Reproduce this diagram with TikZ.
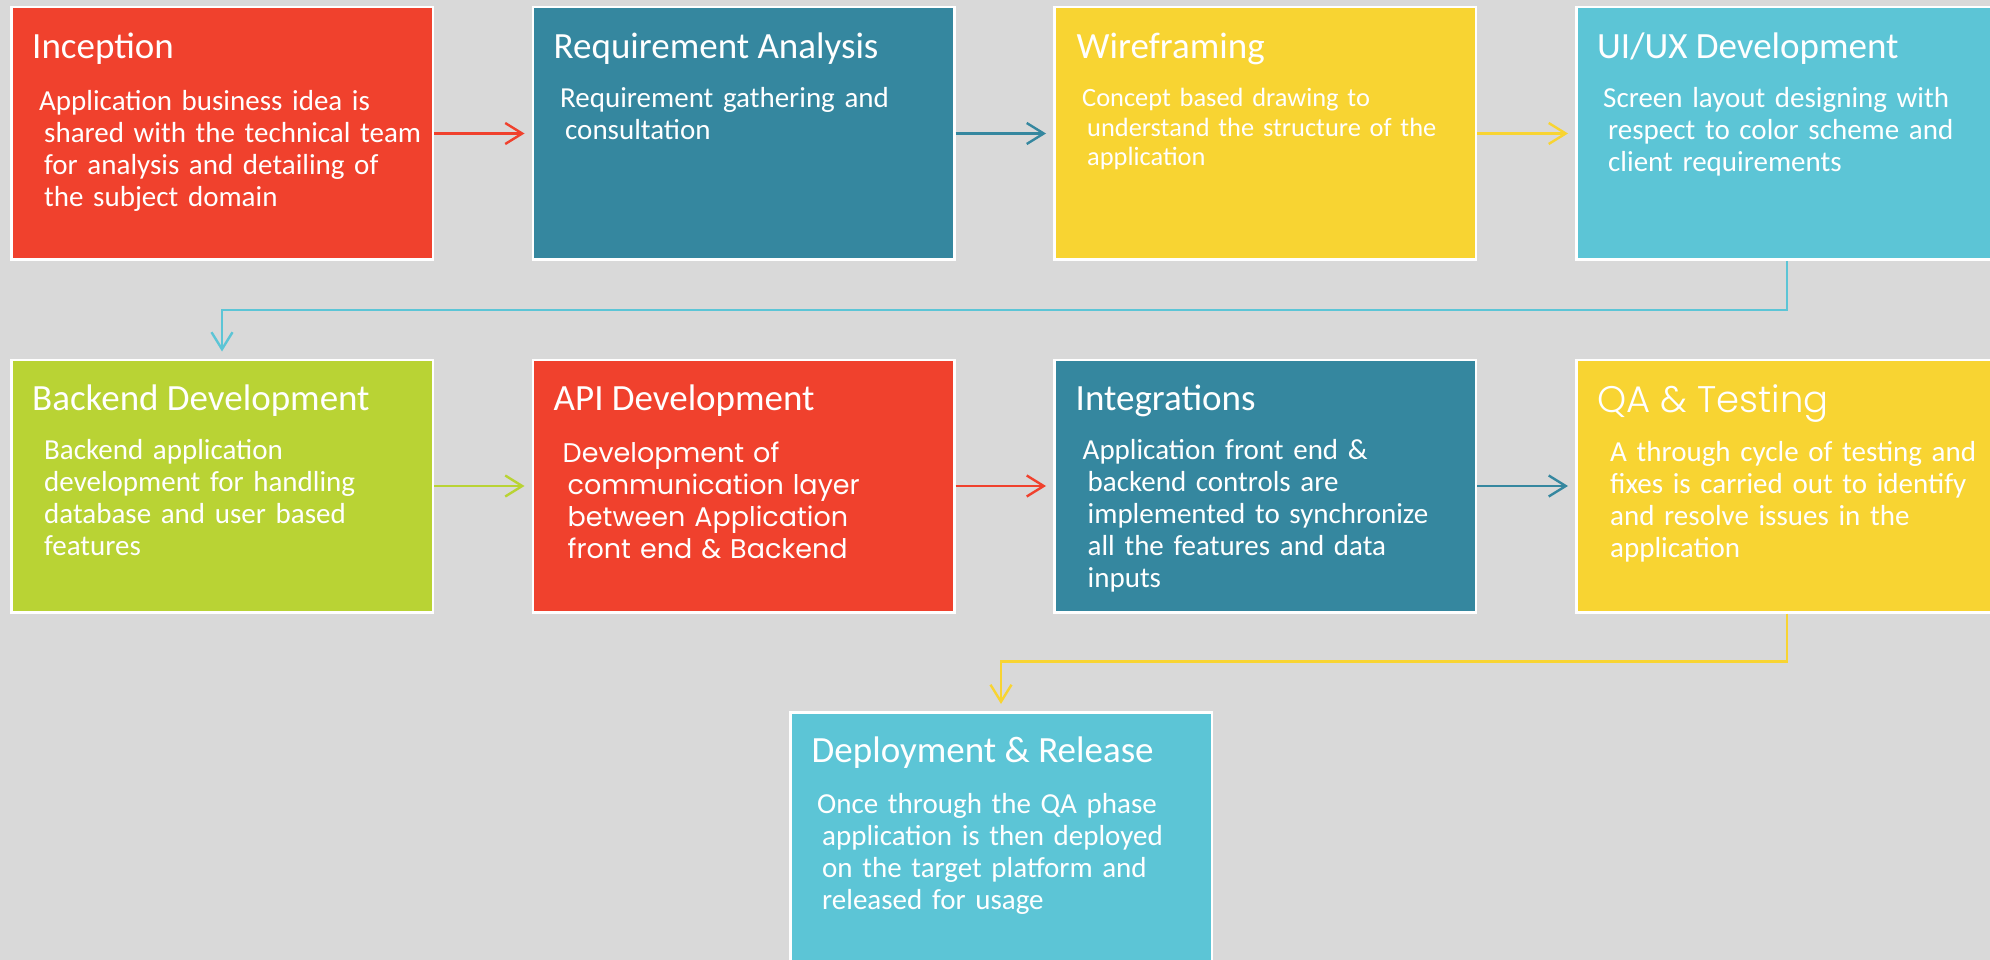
\documentclass[tikz,border=0pt]{standalone}
\usepackage{fontspec}
\setmainfont{Carlito}
\newfontfamily\gothicfont{Poppins}
\newfontfamily\gothiclight{Poppins Light}
\usetikzlibrary{arrows.meta}
\definecolor{bgGray}{HTML}{D9D9D9}
\definecolor{phRed}{HTML}{F0412D}
\definecolor{phTeal}{HTML}{35879F}
\definecolor{phYellow}{HTML}{F8D432}
\definecolor{phCyan}{HTML}{5CC5D6}
\definecolor{phLime}{HTML}{B9D334}
\newcommand\brk{\\\hspace*{5pt}}
\begin{document}
\begin{tikzpicture}[x=1pt, y=1pt,
	phase/.style={draw=white, line width=2.5pt, minimum width=421.5pt, minimum height=252.5pt, inner sep=0pt},
	ttl/.style={anchor=base west, inner sep=0pt, text=white, font=\fontsize{37}{40}\selectfont},
	txt/.style={anchor=base west, inner sep=0pt, text=white, text width=400pt, align=left, font=\fontsize{29}{32}\selectfont},
	arr/.style={line width=2.4pt, -{Straight Barb[length=17pt, width=21pt]}, shorten >=7pt}]
	\fill[bgGray] (0, 0) rectangle (1990, -960);
	\useasboundingbox (0, 0) rectangle (1990, -960);
	% first row
	\node[phase, fill=phRed] (inc) at (222, -133.5) {};
	\node[phase, fill=phTeal] (req) at (743.5, -133.5) {};
	\node[phase, fill=phYellow] (wire) at (1265, -133.5) {};
	\node[phase, fill=phCyan] (uiux) at (1787, -133.5) {};
	% second row
	\node[phase, fill=phLime] (back) at (222, -486) {};
	\node[phase, fill=phRed] (api) at (743.5, -486) {};
	\node[phase, fill=phTeal] (integ) at (1265, -486) {};
	\node[phase, fill=phYellow] (qa) at (1787, -486) {};
	% last one
	\node[phase, fill=phCyan] (deploy) at (1001, -838.5) {};

	\node[ttl] (incT) at ([shift={(22, -53)}]inc.north west) {Inception};
	\node[txt] (incB) at ([shift={(29, -105)}]inc.north west) {Application business idea is\brk shared with the technical team\brk for analysis and detailing of\brk the subject domain};
	\node[ttl] (reqT) at ([shift={(22, -53)}]req.north west) {Requirement Analysis};
	\node[txt] (reqB) at ([shift={(28.5, -102)}]req.north west) {Requirement gathering and\brk consultation};
	\node[ttl] (wireT) at ([shift={(23.5, -53)}]wire.north west) {Wireframing};
	\node[txt, font=\fontsize{26.4}{29.5}\selectfont] (wireB) at ([shift={(29, -101)}]wire.north west) {Concept based drawing to\brk understand the structure of the\brk application};
	\node[ttl] (uiuxT) at ([shift={(22, -53)}]uiux.north west) {UI/UX Development};
	\node[txt] (uiuxB) at ([shift={(28, -102)}]uiux.north west) {Screen layout designing with\brk respect to color scheme and\brk client requirements};

	\node[ttl] (backT) at ([shift={(22, -52)}]back.north west) {Backend Development};
	\node[txt] (backB) at ([shift={(34, -101)}]back.north west) {Backend application\\development for handling\\database and user based\\features};
	\node[ttl] (apiT) at ([shift={(22, -52)}]api.north west) {API Development};
	\node[txt, font=\gothicfont\fontsize{27}{32}\selectfont] (apiB) at ([shift={(31, -104)}]api.north west) {Development of\brk communication layer\brk between Application\brk front end \& Backend};
	\node[ttl] (integT) at ([shift={(22.5, -52)}]integ.north west) {Integrations};
	\node[txt] (integB) at ([shift={(29.5, -101)}]integ.north west) {Application front end \&\brk backend controls are\brk implemented to synchronize\brk all the features and data\brk inputs};
	\node[ttl, font=\gothiclight\fontsize{37}{40}\selectfont] (qaT) at ([shift={(22, -54)}]qa.north west) {QA \& Testing};
	\node[txt] (qaB) at ([shift={(35, -103)}]qa.north west) {A through cycle of testing and\\fixes is carried out to identify\\and resolve issues in the\\application};

	\node[ttl] (deployT) at ([shift={(22.5, -51)}]deploy.north west) {Deployment \& Release};
	\node[txt] (deployB) at ([shift={(28, -102)}]deploy.north west) {Once through the QA phase\brk application is then deployed\brk on the target platform and\brk released for usage};

	% connectors
	\draw[arr, phRed] (inc.east) -- (req.west);
	\draw[arr, phTeal] (req.east) -- (wire.west);
	\draw[arr, phYellow] (wire.east) -- (uiux.west);
	\draw[arr, phCyan] (uiux.south) -- ++(0, -49) -| (back.north);
	\draw[arr, phLime] (back.east) -- (api.west);
	\draw[arr, phRed] (api.east) -- (integ.west);
	\draw[arr, phTeal] (integ.east) -- (qa.west);
	\draw[arr, phYellow] (qa.south) -- ++(0, -48) -| (deploy.north);
\end{tikzpicture}
\end{document}
